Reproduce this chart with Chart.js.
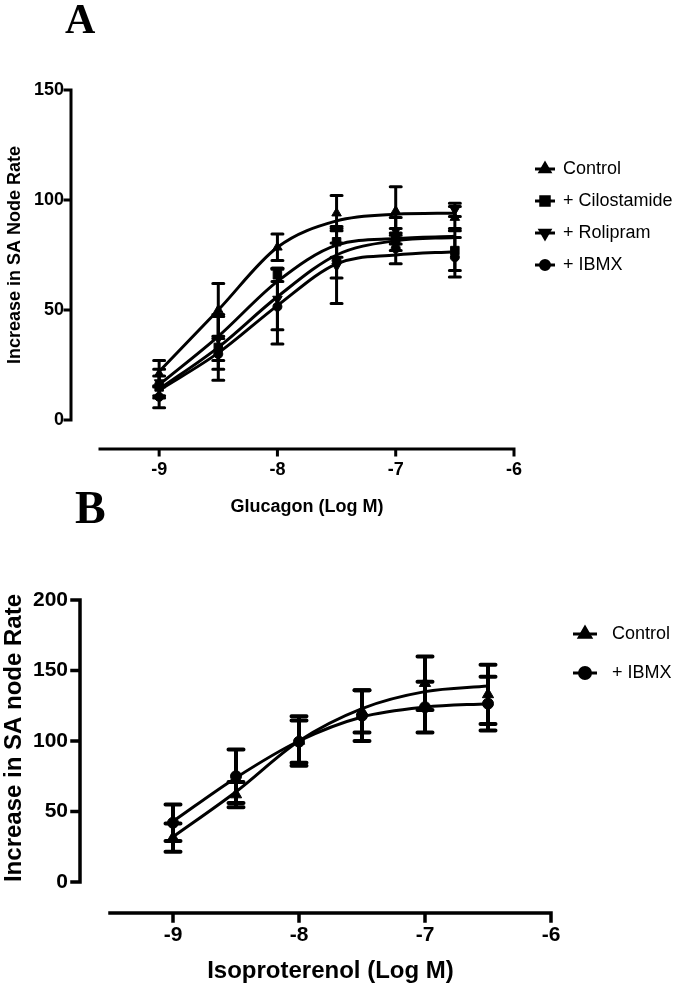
<!DOCTYPE html>
<html>
<head>
<meta charset="utf-8">
<script src="https://cdn.jsdelivr.net/npm/chart.js@4.4.0/dist/chart.umd.min.js"></script>
<style>
  html, body { margin: 0; padding: 0; background: #fff; }
  #wrap { position: relative; width: 679px; height: 983px; overflow: hidden; }
  #wrap canvas { position: absolute; left: 0; }
  #chartA { top: 0; }
  #chartB { top: 480px; }
</style>
</head>
<body>
<div id="wrap">
  <canvas id="chartA" width="679" height="530"></canvas>
  <canvas id="chartB" width="679" height="503"></canvas>
</div>
<script>
// log doses, shared by both panels
const doses = [-9, -8.5, -8, -7.5, -7, -6.5];
const xTicks = [-9, -8, -7, -6];

// panel A - glucagon
const yTicksA = [0, 50, 100, 150];
const controlA = [21, 50, 78.5, 94, 95, 92];
const controlErrA = [6, 12, 6, 8, 11, 5];
const cilostamideA = [15, 33, 66, 81, 82, 77];
const cilostamideErrA = [5, 15, 3, 7, 5, 9];
const rolipramA = [17, 37, 55, 70, 86, 95.5];
const rolipramErrA = [6, 10, 14, 17, 6, 3];
const ibmxA = [10.5, 30, 51.5, 72.5, 78, 74];
const ibmxErrA = [5, 7, 17, 8, 7, 9];
const controlFitA = [22, 50, 78.5, 90.5, 93.5, 94];
const cilostamideFitA = [16, 38, 63, 79.5, 82.5, 83.5];
const rolipramFitA = [14, 33, 56, 75, 81.5, 83];
const ibmxFitA = [13.5, 30.5, 52, 71, 75, 76.5];

// panel B - isoproterenol
const yTicksB = [0, 50, 100, 150, 200];
const controlB = [31.5, 62, 100, 121, 141, 133];
const controlErrB = [10, 9, 17.5, 15, 19, 21];
const ibmxB = [42, 75, 99.5, 118, 124, 126.5];
const ibmxErrB = [13, 19, 15, 18, 18, 19];
const controlFitB = [32, 64, 100, 123, 135, 139];
const ibmxFitB = [43, 74, 100, 117, 124, 126.5];

const FONT = '"Liberation Sans", Arial, sans-serif';
const SERIF = '"Liberation Serif", "Times New Roman", serif';

function pts(ys) {
  return doses.map((x, i) => ({ x, y: ys[i] }));
}

function markerSet(label, ys, errs, style, rot, radius) {
  return {
    label, data: pts(ys), err: errs, isMarker: true, showLine: false,
    pointStyle: style, pointRotation: rot, pointRadius: radius, pointHoverRadius: radius,
    pointBackgroundColor: '#000', pointBorderColor: '#000', pointBorderWidth: 1,
  };
}

function curveSet(ys) {
  return {
    data: pts(ys), showLine: true, pointRadius: 0, borderColor: '#000',
    borderWidth: 3, cubicInterpolationMode: 'monotone', fill: false,
  };
}

function drawMarker(ctx, ds, x, y) {
  const opts = { pointStyle: ds.pointStyle, rotation: ds.pointRotation || 0, radius: ds.pointRadius, borderWidth: 1 };
  if (Chart.helpers && Chart.helpers.drawPoint) {
    Chart.helpers.drawPoint(ctx, opts, x, y);
  } else {
    ctx.beginPath(); ctx.arc(x, y, ds.pointRadius, 0, Math.PI * 2); ctx.fill();
  }
}

// prism-like axes, error bars, legend and labels
const prism = {
  id: 'prism',
  beforeDatasetsDraw(chart, args, o) {
    const ctx = chart.ctx, xs = chart.scales.x, ys = chart.scales.y;
    ctx.save();
    ctx.strokeStyle = '#000';
    ctx.lineWidth = o.errWidth;
    ctx.lineCap = 'round';
    chart.data.datasets.forEach(ds => {
      if (!ds.err) return;
      ds.data.forEach((p, j) => {
        const px = xs.getPixelForValue(p.x);
        const top = ys.getPixelForValue(p.y + ds.err[j]);
        const bot = ys.getPixelForValue(p.y - ds.err[j]);
        ctx.beginPath();
        ctx.moveTo(px, top); ctx.lineTo(px, bot);
        ctx.moveTo(px - o.capHalf, top); ctx.lineTo(px + o.capHalf, top);
        ctx.moveTo(px - o.capHalf, bot); ctx.lineTo(px + o.capHalf, bot);
        ctx.stroke();
      });
    });
    ctx.restore();
  },
  afterDraw(chart, args, o) {
    const ctx = chart.ctx, ca = chart.chartArea, xs = chart.scales.x, ys = chart.scales.y;
    ctx.save();
    ctx.strokeStyle = '#000';
    ctx.fillStyle = '#000';
    ctx.lineWidth = o.axisWidth;
    ctx.lineCap = 'square';

    // y axis, offset left of the plot
    const ax = ca.left - o.yAxisGap;
    const yt = ys.ticks.map(t => ys.getPixelForValue(t.value));
    ctx.beginPath();
    ctx.moveTo(ax, yt[0]); ctx.lineTo(ax, yt[yt.length - 1]);
    yt.forEach(py => { ctx.moveTo(ax - o.tickLen, py); ctx.lineTo(ax, py); });
    ctx.stroke();

    // x axis
    ctx.beginPath();
    ctx.moveTo(ca.left, ca.bottom); ctx.lineTo(ca.right, ca.bottom);
    xs.ticks.forEach(t => {
      const px = xs.getPixelForValue(t.value);
      ctx.moveTo(px, ca.bottom); ctx.lineTo(px, ca.bottom + o.tickLen);
    });
    ctx.stroke();

    // axis titles
    ctx.font = 'bold ' + o.titleSize + 'px ' + FONT;
    ctx.textAlign = 'center';
    ctx.textBaseline = 'alphabetic';
    ctx.fillText(o.xTitle, (ca.left + ca.right) / 2, o.xTitleY);
    ctx.save();
    ctx.translate(o.yTitleX, o.yTitleY);
    ctx.rotate(-Math.PI / 2);
    ctx.fillText(o.yTitle, 0, 0);
    ctx.restore();

    // panel letter
    ctx.font = 'bold ' + o.letterSize + 'px ' + SERIF;
    ctx.textAlign = 'left';
    ctx.fillText(o.letter, o.letterX, o.letterY);

    // legend
    const lg = o.legend;
    ctx.font = lg.size + 'px ' + FONT;
    ctx.textBaseline = 'middle';
    let row = 0;
    chart.data.datasets.forEach(ds => {
      if (!ds.isMarker) return;
      const ly = lg.y + row * lg.dy;
      ctx.lineWidth = 3;
      ctx.lineCap = 'butt';
      ctx.beginPath();
      ctx.moveTo(lg.x - lg.half, ly); ctx.lineTo(lg.x + lg.half, ly);
      ctx.stroke();
      drawMarker(ctx, ds, lg.x, ly);
      ctx.fillText(ds.label, lg.textX, ly);
      row++;
    });
    ctx.restore();
  },
};

function makeChart(id, cfg) {
  return new Chart(document.getElementById(id), {
    type: 'scatter',
    data: { datasets: cfg.datasets },
    plugins: [prism],
    options: {
      responsive: false,
      animation: false,
      events: [],
      layout: { padding: { top: cfg.padTop, right: cfg.padRight, left: 0, bottom: 0 } },
      plugins: { legend: { display: false }, tooltip: { enabled: false }, prism: cfg.prism },
      scales: {
        x: {
          type: 'linear', min: -9.5, max: -6,
          afterBuildTicks: s => { s.ticks = xTicks.map(v => ({ value: v })); },
          afterFit: s => { s.height = cfg.xHeight; },
          grid: { display: false, drawTicks: false },
          border: { display: false },
          ticks: {
            padding: cfg.xPad, color: '#000', maxRotation: 0, autoSkip: false,
            font: { family: FONT, size: cfg.tickSize, weight: 'bold' },
            callback: v => String(v),
          },
        },
        y: {
          type: 'linear', min: cfg.yMin, max: cfg.yMax,
          afterBuildTicks: s => { s.ticks = cfg.yTicks.map(v => ({ value: v })); },
          afterFit: s => { s.width = cfg.yWidth; },
          grid: { display: false, drawTicks: false },
          border: { display: false },
          ticks: {
            padding: cfg.yPad, color: '#000', autoSkip: false,
            font: { family: FONT, size: cfg.tickSize, weight: 'bold' },
            callback: v => String(v),
          },
        },
      },
    },
  });
}

makeChart('chartA', {
  datasets: [
    markerSet('Control', controlA, controlErrA, 'triangle', 0, 5.5),
    markerSet('+ Cilostamide', cilostamideA, cilostamideErrA, 'rect', 0, 6),
    markerSet('+ Rolipram', rolipramA, rolipramErrA, 'triangle', 180, 5.5),
    markerSet('+ IBMX', ibmxA, ibmxErrA, 'circle', 0, 4.5),
    curveSet(controlFitA), curveSet(cilostamideFitA), curveSet(rolipramFitA), curveSet(ibmxFitA),
  ],
  yTicks: yTicksA, yMin: -13.2, yMax: 150,
  padTop: 90, padRight: 165, xHeight: 81, yWidth: 100,
  xPad: 10, yPad: 36, tickSize: 18,
  prism: {
    errWidth: 3, capHalf: 5.5, axisWidth: 3, tickLen: 6, yAxisGap: 29,
    titleSize: 18, xTitle: 'Glucagon (Log M)', xTitleY: 512,
    yTitle: 'Increase in SA Node Rate', yTitleX: 20, yTitleY: 255,
    letter: 'A', letterSize: 42, letterX: 65, letterY: 33,
    legend: { x: 545, half: 10, y: 169, dy: 32, textX: 563, size: 18 },
  },
});

makeChart('chartB', {
  datasets: [
    markerSet('Control', controlB, controlErrB, 'triangle', 0, 6.5),
    markerSet('+ IBMX', ibmxB, ibmxErrB, 'circle', 0, 5.5),
    curveSet(controlFitB), curveSet(ibmxFitB),
  ],
  yTicks: yTicksB, yMin: -22, yMax: 200,
  padTop: 120, padRight: 128, xHeight: 70, yWidth: 110,
  xPad: 10, yPad: 42, tickSize: 21,
  prism: {
    errWidth: 4, capHalf: 7.5, axisWidth: 3.5, tickLen: 8, yAxisGap: 30,
    titleSize: 24, xTitle: 'Isoproterenol (Log M)', xTitleY: 498,
    yTitle: 'Increase in SA node Rate', yTitleX: 21, yTitleY: 258,
    letter: 'B', letterSize: 46, letterX: 75, letterY: 43,
    legend: { x: 585, half: 12, y: 154, dy: 39, textX: 612, size: 18 },
  },
});
</script>
</body>
</html>
